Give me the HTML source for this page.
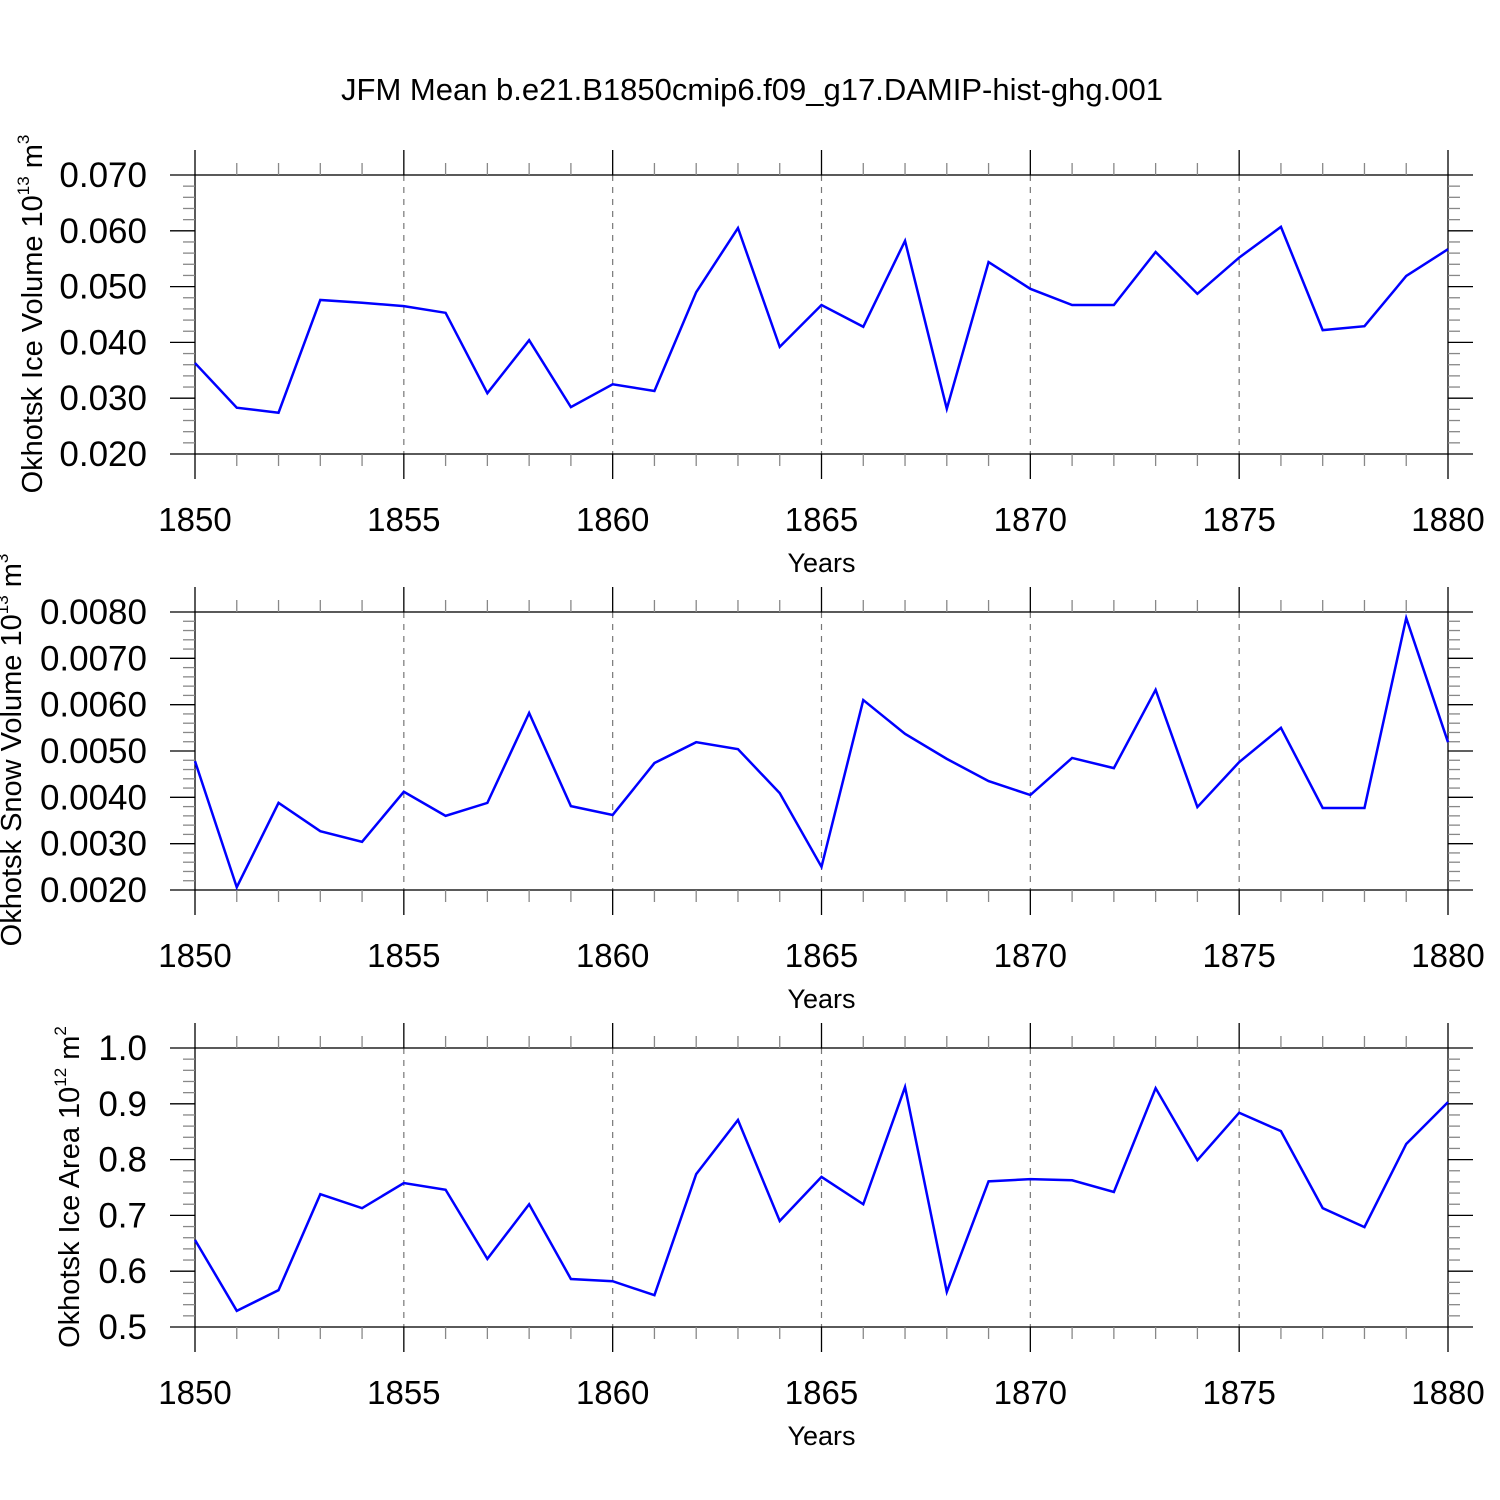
<!DOCTYPE html>
<html><head><meta charset="utf-8"><style>
html,body{margin:0;padding:0;background:#fff}
svg{display:block;font-family:"Liberation Sans",Arial,sans-serif}
</style></head><body>
<svg id="c" width="1500" height="1500" viewBox="0 0 1500 1500">
<text x="752" y="100" font-size="31" text-anchor="middle">JFM Mean b.e21.B1850cmip6.f09_g17.DAMIP-hist-ghg.001</text>
</svg>
<script>
const years = [1850,1851,1852,1853,1854,1855,1856,1857,1858,1859,1860,1861,1862,1863,1864,1865,1866,1867,1868,1869,1870,1871,1872,1873,1874,1875,1876,1877,1878,1879,1880];
const iceVolume = [0.0363,0.0283,0.0274,0.0476,0.0471,0.0465,0.0453,0.0309,0.0404,0.0284,0.0325,0.0313,0.0490,0.0605,0.0392,0.0467,0.0428,0.0582,0.0281,0.0544,0.0496,0.0467,0.0467,0.0562,0.0487,0.0552,0.0607,0.0422,0.0429,0.0519,0.0567];
const snowVolume = [0.00478,0.00206,0.00388,0.00327,0.00304,0.00412,0.00360,0.00388,0.00582,0.00381,0.00362,0.00474,0.00519,0.00504,0.00409,0.00250,0.00610,0.00537,0.00483,0.00435,0.00405,0.00485,0.00463,0.00632,0.00379,0.00476,0.00550,0.00377,0.00377,0.00787,0.00519];
const iceArea = [0.656,0.529,0.566,0.738,0.713,0.758,0.746,0.622,0.720,0.586,0.582,0.557,0.774,0.871,0.690,0.769,0.720,0.930,0.563,0.761,0.765,0.763,0.742,0.928,0.799,0.884,0.851,0.713,0.679,0.828,0.903];
const ticks1 = ["0.020","0.030","0.040","0.050","0.060","0.070"];
const ticks2 = ["0.0020","0.0030","0.0040","0.0050","0.0060","0.0070","0.0080"];
const ticks3 = ["0.5","0.6","0.7","0.8","0.9","1.0"];
const xTicks = [1850,1855,1860,1865,1870,1875,1880];

const svg=document.getElementById('c');
const NS='http://www.w3.org/2000/svg';
function mk(tag,attrs,parent){const e=document.createElementNS(NS,tag);for(const k in attrs)e.setAttribute(k,attrs[k]);(parent||svg).appendChild(e);return e;}
const X0=195,X1=1448;
const xs=y=>X0+(y-1850)/30*(X1-X0);

function panel(id,top,bot,ticks,vals,labelParts,lx,ly){
  const g=mk('g',{});
  
  
  const ymin=+ticks[0],ymax=+ticks[ticks.length-1];
  const ys=v=>bot-(v-ymin)/(ymax-ymin)*(bot-top);
  xTicks.slice(1,-1).forEach(t=>{const l=mk('line',{x1:xs(t),x2:xs(t),y1:top,y2:bot,stroke:'#777','stroke-width':1.2,'stroke-dasharray':'6,6'},g);
    });
  const f=mk('rect',{x:X0,y:top,width:X1-X0,height:bot-top,fill:'none',stroke:'#000','stroke-width':1.3},g);
  
  for(let y=1850;y<=1880;y++){const maj=(y%5===0);const len=maj?25:12;
    mk('line',{x1:xs(y),x2:xs(y),y1:top,y2:top-len,stroke:maj?'#000':'#888','stroke-width':1.3},g);
    mk('line',{x1:xs(y),x2:xs(y),y1:bot,y2:bot+len,stroke:maj?'#000':'#888','stroke-width':1.3},g);}
  xTicks.forEach(t=>{const tx=mk('text',{x:xs(t),y:bot+77,'font-size':33,'text-anchor':'middle'},g);tx.textContent=t;
    });
  const xt=mk('text',{x:(X0+X1)/2,y:bot+118,'font-size':27,'text-anchor':'middle'},g);xt.textContent='Years';
  
  const step=(ymax-ymin)/(ticks.length-1);
  for(let i=0;i<(ticks.length-1)*5+1;i++){const v=ymin+i*step/5;const maj=i%5===0;const len=maj?25:12;const yy=ys(v);
    mk('line',{x1:X0,x2:X0-len,y1:yy,y2:yy,stroke:maj?'#000':'#888','stroke-width':1.3},g);
    mk('line',{x1:X1,x2:X1+len,y1:yy,y2:yy,stroke:maj?'#000':'#888','stroke-width':1.3},g);}
  ticks.forEach(t=>{const tx=mk('text',{x:147,y:ys(+t)+12,'font-size':35,'text-anchor':'end'},g);tx.textContent=t;
    });
  const yt=mk('text',{x:0,y:0,'font-size':29,'text-anchor':'middle',transform:`translate(${lx},${ly}) rotate(-90)`},g);
  
  const t1=mk('tspan',{},yt);t1.textContent=labelParts[0];
  const t2=mk('tspan',{dy:-13,'font-size':17},yt);t2.textContent=labelParts[1];
  const t3=mk('tspan',{dy:13},yt);t3.textContent=' m';
  const t4=mk('tspan',{dy:-13,'font-size':17},yt);t4.textContent=labelParts[2];
  const pts=vals.map((v,i)=>xs(years[i])+','+ys(v)).join(' ');
  const pl=mk('polyline',{points:pts,fill:'none',stroke:'#0000ff','stroke-width':2.5,'stroke-linejoin':'miter'},g);
  
}
panel('ice-volume',175,454,ticks1,iceVolume,['Okhotsk Ice Volume 10','13','3'],42,314);
panel('snow-volume',612,890,ticks2,snowVolume,['Okhotsk Snow Volume 10','13','3'],21,750);
panel('ice-area',1048,1327,ticks3,iceArea,['Okhotsk Ice Area 10','12','2'],79,1187);
</script>
</body></html>
